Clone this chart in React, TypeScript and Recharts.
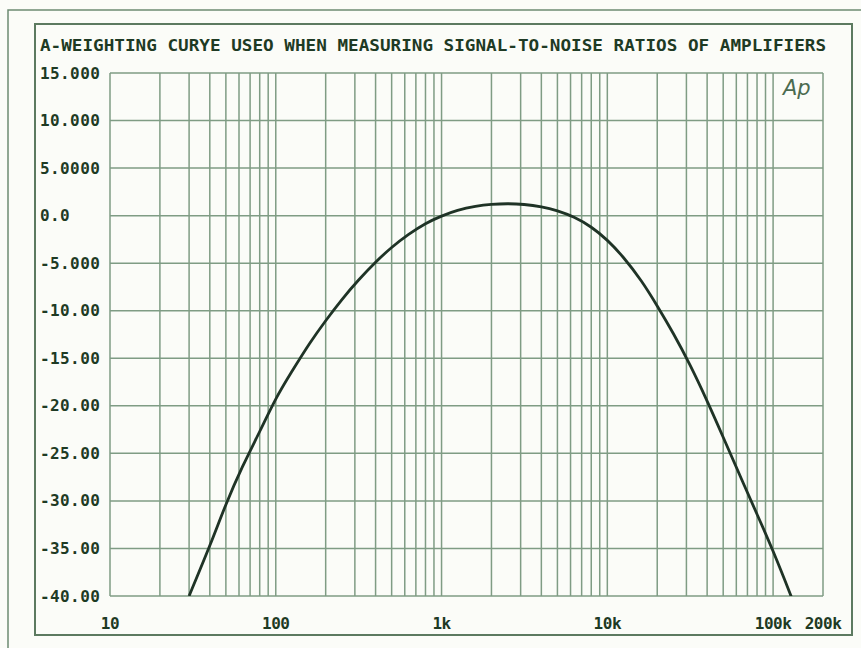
import { CartesianGrid, LineChart, Line, ReferenceLine, XAxis, YAxis } from "recharts";

// A-weighting response (Hz, dB)
const freqs = [
  30, 40, 50, 63, 80, 100, 125, 160, 200, 250, 315, 400, 500, 630, 800,
  1000, 1250, 1600, 2000, 2500, 3150, 4000, 5000, 6300, 8000, 10000,
  12500, 16000, 20000, 25000, 31500, 40000, 50000, 63000, 80000, 100000,
  125000, 128000,
];
const levels = [
  -40.0, -34.7, -30.4, -26.4, -22.7, -19.3, -16.4, -13.45, -11.05, -8.85, -6.8,
  -4.9, -3.35, -2.0, -0.85, -0.05, 0.55, 0.97, 1.18, 1.25, 1.17, 0.92, 0.5, -0.18,
  -1.22, -2.6, -4.4, -6.85, -9.5, -12.4, -15.7, -19.5, -23.3, -27.3, -31.4,
  -35.3, -39.5, -40.0,
];

const xTicks = [10, 100, 1000, 10000, 100000, 200000];
const xTickLabels = ["10", "100", "1k", "10k", "100k", "200k"];
const yTicks = [15, 10, 5, 0, -5, -10, -15, -20, -25, -30, -35, -40];
const yTickLabels = [
  "15.000", "10.000", "5.0000", "0.0", "-5.000", "-10.00",
  "-15.00", "-20.00", "-25.00", "-30.00", "-35.00", "-40.00",
];
const gridFreqs = [
  10, 20, 30, 40, 50, 60, 70, 80, 90,
  100, 200, 300, 400, 500, 600, 700, 800, 900,
  1000, 2000, 3000, 4000, 5000, 6000, 7000, 8000, 9000,
  10000, 20000, 30000, 40000, 50000, 60000, 70000, 80000, 90000,
  100000, 200000,
];

const title = "A-WEIGHTING CURYE USEO WHEN MEASURING SIGNAL-TO-NOISE RATIOS OF AMPLIFIERS";

const data = freqs.map((f, i) => ({ f, db: levels[i] }));

const ink = "#1e3a24";
const gridColor = "#7f9c84";
const font = "'DejaVu Sans Mono', monospace";

function YTick(props: any) {
  const i = yTicks.indexOf(props.payload.value);
  return (
    <text x={40} y={props.y} dy={5.5} textAnchor="start" fill={ink}
      fontFamily={font} fontWeight="bold" fontSize={16} letterSpacing={0.4}>
      {yTickLabels[i]}
    </text>
  );
}

function XTick(props: any) {
  const i = xTicks.indexOf(props.payload.value);
  return (
    <text x={props.x} y={props.y} dy={25} textAnchor="middle" fill={ink}
      fontFamily={font} fontWeight="bold" fontSize={16} letterSpacing={-0.5}>
      {xTickLabels[i]}
    </text>
  );
}

export default function App() {
  return (
    <div style={{ position: "absolute", left: 0, top: 0, width: 861, height: 648, background: "#fbfcf8" }}>
      <LineChart width={861} height={648} data={data}
        margin={{ top: 73, right: 38, bottom: 22, left: 40 }}>
        <CartesianGrid vertical={false} stroke={gridColor} strokeWidth={1.5} />
        {gridFreqs.map((g) => (
          <ReferenceLine key={g} x={g} stroke={gridColor} strokeWidth={1.5} />
        ))}
        <XAxis dataKey="f" type="number" scale="log" domain={[10, 200000]} height={30}
          ticks={xTicks} allowDataOverflow axisLine={false} tickLine={false}
          tick={<XTick />} interval={0} />
        <YAxis type="number" domain={[-40, 15]} ticks={yTicks} width={70}
          allowDataOverflow axisLine={false} tickLine={false} tick={<YTick />} interval={0} />
        <Line type="natural" dataKey="db" stroke="#1f3326" strokeWidth={2.8}
          dot={false} isAnimationActive={false} />
      </LineChart>
      <svg width={861} height={648} style={{ position: "absolute", left: 0, top: 0, pointerEvents: "none" }}>
        <path d="M8 648 V10 H861" fill="none" stroke="#6e8a72" strokeWidth={1.5} />
        <rect x={35} y={24} width={817} height={611} fill="none" stroke="#5c7a60" strokeWidth={2} />
        <text x={40} y={51} fill={ink} fontFamily={font} fontWeight="bold" fontSize={16}
          textLength={786} lengthAdjust="spacingAndGlyphs">
          {title}
        </text>
        <text x={783} y={95} fill="#4b6b50" fontFamily="'DejaVu Sans', sans-serif"
          fontStyle="italic" fontSize={21}>
          Ap
        </text>
      </svg>
    </div>
  );
}
